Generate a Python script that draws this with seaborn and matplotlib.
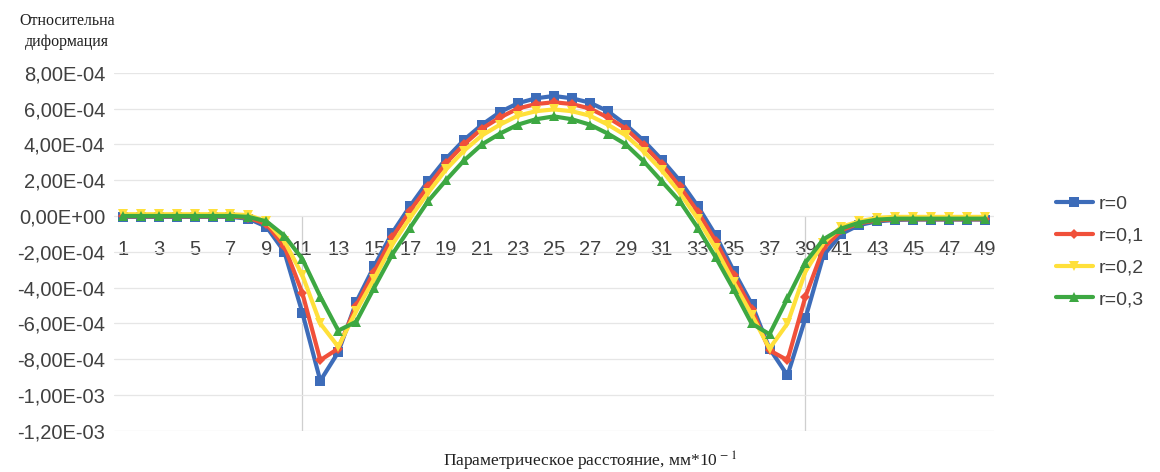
import numpy as np
import pandas as pd
import seaborn as sns
import matplotlib.pyplot as plt
from matplotlib.ticker import FuncFormatter, MultipleLocator

# positions along the sample, mm*10^-1
positions = list(range(1, 50))
series_names = ["r=0", "r=0,1", "r=0,2", "r=0,3"]

# relative deformation, in units of 1e-4
r_0 = [-0.05] * 7 + [
    -0.15, -0.6, -2.0, -5.4, -9.2, -7.6, -4.8, -2.8, -0.95, 0.56,
    1.95, 3.2, 4.25, 5.1, 5.8, 6.3, 6.57, 6.7, 6.57, 6.33,
    5.85, 5.1, 4.2, 3.15, 1.98, 0.56, -1.07, -3.05, -4.9, -7.4,
    -8.9, -5.7, -2.2, -1.0, -0.5, -0.3, -0.22, -0.2, -0.2, -0.2,
    -0.2, -0.2]
r_01 = [-0.02] * 7 + [
    -0.1, -0.45, -1.7, -4.3, -8.05, -7.4, -5.0, -3.1, -1.2, 0.3,
    1.65, 2.95, 4.0, 4.88, 5.5, 6.0, 6.25, 6.35, 6.25, 6.0,
    5.5, 4.88, 3.95, 2.9, 1.65, 0.25, -1.4, -3.3, -5.2, -7.5,
    -8.05, -4.5, -1.8, -0.8, -0.4, -0.25, -0.18, -0.18, -0.18, -0.18,
    -0.18, -0.18]
r_02 = [0.1] * 7 + [
    0.05, -0.3, -1.4, -3.3, -6.0, -7.3, -5.3, -3.5, -1.6, -0.1,
    1.3, 2.6, 3.65, 4.5, 5.1, 5.6, 5.85, 5.95, 5.85, 5.6,
    5.1, 4.5, 3.6, 2.55, 1.3, -0.15, -1.8, -3.7, -5.5, -7.4,
    -6.0, -3.1, -1.5, -0.6, -0.3, -0.1, -0.05, -0.05, -0.05, -0.05,
    -0.05, -0.05]
r_03 = [0.0] * 7 + [
    -0.05, -0.3, -1.1, -2.4, -4.5, -6.4, -5.9, -4.0, -2.15, -0.65,
    0.83, 2.0, 3.1, 4.0, 4.6, 5.1, 5.4, 5.56, 5.4, 5.1,
    4.6, 4.0, 3.05, 1.94, 0.83, -0.65, -2.3, -4.1, -6.0, -6.6,
    -4.6, -2.6, -1.3, -0.7, -0.37, -0.2, -0.15, -0.15, -0.15, -0.15,
    -0.15, -0.15]

colors = ["#3D6CB9", "#F0503A", "#FFE03A", "#3DA842"]
markers = ["s", "D", "v", "^"]

df = pd.DataFrame({
    "pos": positions * 4,
    "value": np.array(r_0 + r_01 + r_02 + r_03) * 1e-4,
    "series": sum([[n] * len(positions) for n in series_names], []),
})

sns.set_style("white")
plt.rcParams["font.family"] = ["Liberation Sans", "DejaVu Sans"]
plt.rcParams["mathtext.fontset"] = "stix"


def sci_comma(v, p):
    if abs(v) < 1e-12:
        v = 0.0
    return f"{v:.2E}".replace(".", ",")


fig = plt.figure(figsize=(11.6, 4.72), dpi=100)
ax = fig.add_axes([0.098, 0.087, 0.759, 0.759])

for name, col, mk in zip(series_names, colors, markers):
    sub = df[df["series"] == name]
    sns.lineplot(data=sub, x="pos", y="value", ax=ax, color=col, marker=mk,
                 markersize=7 if mk != "D" else 5.5, markeredgewidth=0,
                 linewidth=3, label=name)

ax.set_xlim(0.5, 49.5)
ax.set_ylim(-1.2e-3, 8e-4)
ax.yaxis.set_major_locator(MultipleLocator(2e-4))
ax.yaxis.set_major_formatter(FuncFormatter(sci_comma))
ax.set_xticks(positions[::2])
ax.grid(axis="y", color="#e6e6e6", linewidth=0.9)
ax.set_axisbelow(True)

# vertical reference lines at 11 and 39
for xv in (11, 39):
    ax.plot([xv, xv], [-1.2e-3, 0], color="#cfcfcf", linewidth=0.9, zorder=0)

for s in ["top", "right", "left"]:
    ax.spines[s].set_visible(False)
ax.spines["bottom"].set_position(("data", 0))
ax.spines["bottom"].set_visible(False)
ax.tick_params(axis="x", length=0, pad=17, labelsize=14.5, labelcolor="#404040")
ax.tick_params(axis="y", length=0, pad=6, labelsize=14.5, labelcolor="#404040")
ax.set_xlabel("")
ax.set_ylabel("")

fig.text(0.058, 0.933, "Относительна\nдиформация", ha="center", va="center",
         family=["Liberation Serif", "DejaVu Serif"], fontsize=11.5,
         linespacing=1.45, color="#202020")
fig.text(0.509, 0.022, "Параметрическое расстояние, мм*10$^{\\,-1}$",
         ha="center", va="center", family=["Liberation Serif", "DejaVu Serif"],
         fontsize=12.5, color="#202020")

ax.legend(loc="center left", bbox_to_anchor=(1.05, 0.5), frameon=False,
          fontsize=14, handlelength=1.9, labelspacing=0.72, handletextpad=0.3,
          labelcolor="#404040")

fig.savefig("out.png", dpi=100)
